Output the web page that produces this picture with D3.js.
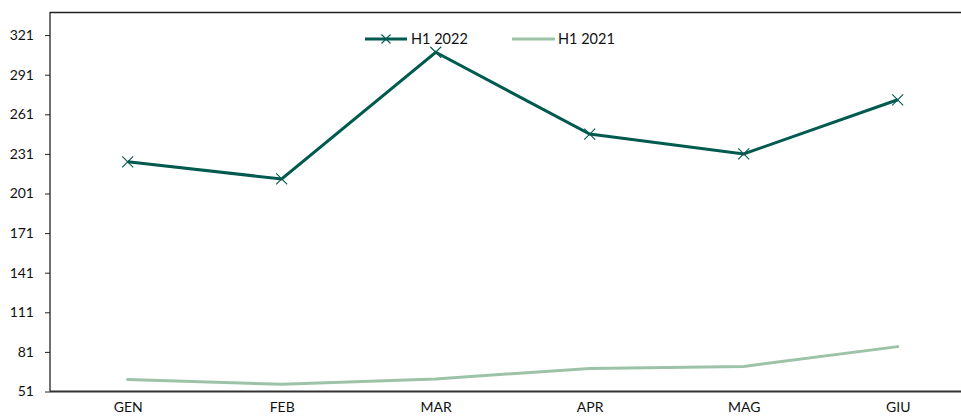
<!DOCTYPE html>
<html><head><meta charset="utf-8">
<script src="https://cdn.jsdelivr.net/npm/d3@7"></script>
<style>body{margin:0;background:#fff;} svg{display:block;} text{font-family:"Lato","DejaVu Sans",sans-serif;}</style>
</head><body>
<svg id="c" width="961" height="416"></svg>
<script>
const months = ["GEN","FEB","MAR","APR","MAG","GIU"];
const h1_2022 = [225, 212, 308, 246, 231, 272];
const h1_2021 = [60, 56.5, 60.5, 68.5, 70, 85];
const yTicks = [51, 81, 111, 141, 171, 201, 231, 261, 291, 321];
const seriesNames = ["H1 2022", "H1 2021"];

const svg = d3.select("#c");
const L = 50, T = 12, B = 391.5, step = 154;
const x = d3.scalePoint().domain(months).range([L + 77.7, L + 77.7 + step*5]);
const y = d3.scaleLinear().domain([51, 338.5]).range([B, T]);

const dark = "#005a50", light = "#9cc3a8";

// frame top
svg.append("line").attr("x1", L).attr("x2", 961).attr("y1", T + 0.5).attr("y2", T + 0.5)
  .attr("stroke", "#222").attr("stroke-width", 1.3);

// y axis
const ya = svg.append("g").attr("transform", `translate(${L},0)`)
  .call(d3.axisLeft(y).tickValues(yTicks).tickSize(5).tickPadding(11).tickFormat(d3.format("d")));
ya.select(".domain").attr("d", `M0,${T}V${B}`).attr("stroke", "#222").attr("stroke-width", 1.3);
ya.selectAll(".tick line").attr("stroke", "#222");
ya.selectAll("text").attr("font-size", 14).attr("fill", "#111");

// x axis
const xa = svg.append("g").attr("transform", `translate(0,${B})`)
  .call(d3.axisBottom(x).tickSize(0).tickPadding(11));
xa.select(".domain").attr("d", `M${L},0H961`).attr("stroke", "#333").attr("stroke-width", 1.8);
xa.selectAll("text").attr("font-size", 14).attr("fill", "#111");

const line = d3.line().x((d, i) => x(months[i])).y(d => y(d));

svg.append("path").datum(h1_2021).attr("d", line).attr("fill", "none")
  .attr("stroke", light).attr("stroke-width", 3).attr("stroke-linecap", "round");
svg.append("path").datum(h1_2022).attr("d", line).attr("fill", "none")
  .attr("stroke", dark).attr("stroke-width", 3).attr("stroke-linejoin", "miter");

function cross(g, cx, cy, s) {
  g.append("path").attr("d", `M${cx-s},${cy-s}L${cx+s},${cy+s}M${cx-s},${cy+s}L${cx+s},${cy-s}`)
    .attr("stroke", dark).attr("stroke-width", 1.1).attr("fill", "none");
}
const mk = svg.append("g");
h1_2022.forEach((v, i) => cross(mk, x(months[i]), y(v), 5.5));

// legend
const lg = svg.append("g");
lg.append("line").attr("x1", 365).attr("x2", 407).attr("y1", 39).attr("y2", 39)
  .attr("stroke", dark).attr("stroke-width", 3);
cross(lg, 386, 39, 4.5);
lg.append("text").attr("x", 411).attr("y", 44).attr("font-size", 14.5).attr("fill", "#111").text(seriesNames[0]);
lg.append("line").attr("x1", 512).attr("x2", 555).attr("y1", 39).attr("y2", 39)
  .attr("stroke", light).attr("stroke-width", 3);
lg.append("text").attr("x", 558).attr("y", 44).attr("font-size", 14.5).attr("fill", "#111").text(seriesNames[1]);
</script>
</body></html>
